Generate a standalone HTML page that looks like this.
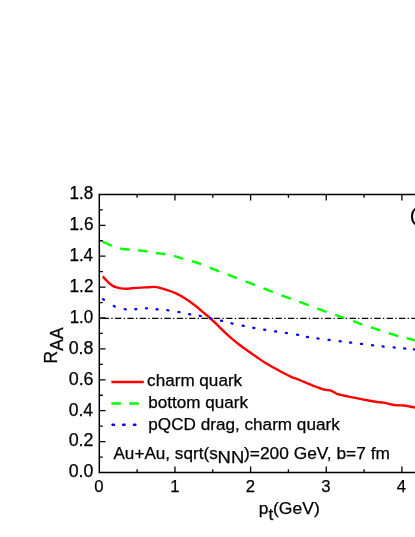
<!DOCTYPE html><html><head><meta charset="utf-8"><style>html,body{margin:0;padding:0;background:#fff;}svg{display:block;will-change:transform;}text{font-family:"Liberation Sans",sans-serif;fill:#000;stroke:#000;stroke-width:0.25px;}</style></head><body>
<svg width="415" height="537" viewBox="0 0 415 537">
<rect width="415" height="537" fill="#fff"/>
<path d="M98.6 318.30 H416" stroke="#000" stroke-width="1.35" stroke-dasharray="6.3 2.3 1.3 2.445" stroke-dashoffset="8.225" fill="none"/>
<path d="M102.70 276.40 C103.48 277.23 105.78 279.87 107.40 281.40 C109.02 282.93 110.70 284.57 112.40 285.60 C114.10 286.63 116.17 287.13 117.60 287.60 C119.03 288.07 119.68 288.20 121.00 288.40 C122.32 288.60 124.00 288.78 125.50 288.80 C127.00 288.82 128.40 288.65 130.00 288.50 C131.60 288.35 132.58 288.08 135.10 287.90 C137.62 287.72 141.82 287.57 145.10 287.40 C148.38 287.23 152.38 286.83 154.80 286.90 C157.22 286.97 157.52 287.27 159.60 287.80 C161.68 288.33 164.57 289.17 167.30 290.10 C170.03 291.03 173.02 292.00 176.00 293.40 C178.98 294.80 181.87 296.37 185.20 298.50 C188.53 300.63 193.00 303.90 196.00 306.20 C199.00 308.50 200.78 310.25 203.20 312.30 C205.62 314.35 208.08 316.33 210.50 318.50 C212.92 320.67 215.30 323.00 217.70 325.30 C220.10 327.60 222.50 330.05 224.90 332.30 C227.30 334.55 229.68 336.73 232.10 338.80 C234.52 340.87 236.98 342.83 239.40 344.70 C241.82 346.57 243.83 348.02 246.60 350.00 C249.37 351.98 252.98 354.52 256.00 356.60 C259.02 358.68 261.80 360.68 264.70 362.50 C267.60 364.32 270.52 365.87 273.40 367.50 C276.28 369.13 279.12 370.78 282.00 372.30 C284.88 373.82 287.80 375.32 290.70 376.60 C293.60 377.88 296.48 378.83 299.40 380.00 C302.32 381.17 305.33 382.43 308.20 383.60 C311.07 384.77 314.35 386.12 316.60 387.00 C318.85 387.88 320.13 388.42 321.70 388.90 C323.27 389.38 324.37 389.57 326.00 389.90 C327.63 390.23 329.68 390.25 331.50 390.90 C333.32 391.55 334.37 392.92 336.90 393.80 C339.43 394.68 343.27 395.43 346.70 396.20 C350.13 396.97 353.88 397.68 357.50 398.40 C361.12 399.12 365.15 399.90 368.40 400.50 C371.65 401.10 374.47 401.65 377.00 402.00 C379.53 402.35 381.42 402.23 383.60 402.60 C385.78 402.97 387.93 403.75 390.10 404.20 C392.27 404.65 394.25 405.08 396.60 405.30 C398.95 405.52 402.03 405.30 404.20 405.50 C406.37 405.70 407.63 406.13 409.60 406.50 C411.57 406.87 414.93 407.50 416.00 407.70" stroke="#ff0000" stroke-width="2.4" fill="none" stroke-linejoin="round"/>
<path d="M102.40 241.50 L103.97 242.26 L105.53 243.02 L107.10 243.75 L108.67 244.45 L110.23 245.09 L111.80 245.70" stroke="#00ff00" stroke-width="2.4" fill="none"/>
<path d="M120.30 248.47 L121.87 248.79 L123.43 249.04 L125.00 249.23 L126.57 249.39 L128.13 249.53 L129.70 249.68" stroke="#00ff00" stroke-width="2.4" fill="none"/>
<path d="M138.20 250.26 L139.77 250.44 L141.33 250.63 L142.90 250.83 L144.47 251.05 L146.03 251.27 L147.60 251.50" stroke="#00ff00" stroke-width="2.4" fill="none"/>
<path d="M156.10 252.95 L157.67 253.19 L159.23 253.40 L160.80 253.60 L162.37 253.80 L163.93 254.03 L165.50 254.29" stroke="#00ff00" stroke-width="2.4" fill="none"/>
<path d="M174.00 256.00 L175.57 256.42 L177.13 256.88 L178.70 257.37 L180.27 257.86 L181.83 258.35 L183.40 258.80" stroke="#00ff00" stroke-width="2.4" fill="none"/>
<path d="M191.90 261.12 L193.47 261.57 L195.03 262.03 L196.60 262.51 L198.17 263.04 L199.73 263.60 L201.30 264.20" stroke="#00ff00" stroke-width="2.4" fill="none"/>
<path d="M209.80 267.71 L211.37 268.35 L212.93 268.98 L214.50 269.59 L216.07 270.20 L217.63 270.80 L219.20 271.39" stroke="#00ff00" stroke-width="2.4" fill="none"/>
<path d="M227.70 274.58 L229.27 275.17 L230.83 275.76 L232.40 276.35 L233.97 276.95 L235.53 277.55 L237.10 278.14" stroke="#00ff00" stroke-width="2.4" fill="none"/>
<path d="M245.60 281.40 L247.17 282.01 L248.73 282.61 L250.30 283.22 L251.87 283.82 L253.43 284.43 L255.00 285.04" stroke="#00ff00" stroke-width="2.4" fill="none"/>
<path d="M263.50 288.35 L265.07 288.96 L266.63 289.57 L268.20 290.18 L269.77 290.78 L271.33 291.39 L272.90 291.99" stroke="#00ff00" stroke-width="2.4" fill="none"/>
<path d="M281.40 295.26 L282.97 295.86 L284.53 296.45 L286.10 297.04 L287.67 297.62 L289.23 298.19 L290.80 298.76" stroke="#00ff00" stroke-width="2.4" fill="none"/>
<path d="M299.30 301.81 L300.87 302.38 L302.43 302.96 L304.00 303.54 L305.57 304.13 L307.13 304.72 L308.70 305.31" stroke="#00ff00" stroke-width="2.4" fill="none"/>
<path d="M317.20 308.52 L318.77 309.10 L320.33 309.67 L321.90 310.24 L323.47 310.81 L325.03 311.37 L326.60 311.92" stroke="#00ff00" stroke-width="2.4" fill="none"/>
<path d="M335.10 314.87 L336.67 315.41 L338.23 315.96 L339.80 316.51 L341.37 317.05 L342.93 317.60 L344.50 318.16" stroke="#00ff00" stroke-width="2.4" fill="none"/>
<path d="M353.00 321.14 L354.57 321.68 L356.13 322.23 L357.70 322.77 L359.27 323.31 L360.83 323.84 L362.40 324.38" stroke="#00ff00" stroke-width="2.4" fill="none"/>
<path d="M370.90 327.26 L372.47 327.79 L374.03 328.31 L375.60 328.83 L377.17 329.36 L378.73 329.89 L380.30 330.42" stroke="#00ff00" stroke-width="2.4" fill="none"/>
<path d="M388.80 333.25 L390.37 333.74 L391.93 334.23 L393.50 334.70 L395.07 335.15 L396.63 335.59 L398.20 336.02" stroke="#00ff00" stroke-width="2.4" fill="none"/>
<path d="M406.70 338.20 L408.27 338.60 L409.83 339.00 L411.40 339.41 L412.97 339.83 L414.53 340.27 L416.10 340.70" stroke="#00ff00" stroke-width="2.4" fill="none"/>
<path d="M103.03 299.11 L103.97 299.69" stroke="#0000ff" stroke-width="2.3" stroke-linecap="round" fill="none"/>
<path d="M113.80 305.97 L114.80 306.43" stroke="#0000ff" stroke-width="2.3" stroke-linecap="round" fill="none"/>
<path d="M124.76 309.22 L125.84 309.38" stroke="#0000ff" stroke-width="2.3" stroke-linecap="round" fill="none"/>
<path d="M135.25 309.23 L136.35 309.17" stroke="#0000ff" stroke-width="2.3" stroke-linecap="round" fill="none"/>
<path d="M145.95 308.30 L147.05 308.30" stroke="#0000ff" stroke-width="2.3" stroke-linecap="round" fill="none"/>
<path d="M156.55 309.25 L157.65 309.35" stroke="#0000ff" stroke-width="2.3" stroke-linecap="round" fill="none"/>
<path d="M167.35 310.23 L168.45 310.37" stroke="#0000ff" stroke-width="2.3" stroke-linecap="round" fill="none"/>
<path d="M178.46 311.90 L179.54 312.10" stroke="#0000ff" stroke-width="2.3" stroke-linecap="round" fill="none"/>
<path d="M189.16 314.10 L190.24 314.30" stroke="#0000ff" stroke-width="2.3" stroke-linecap="round" fill="none"/>
<path d="M199.76 315.79 L200.84 316.01" stroke="#0000ff" stroke-width="2.3" stroke-linecap="round" fill="none"/>
<path d="M210.36 318.28 L211.44 318.52" stroke="#0000ff" stroke-width="2.3" stroke-linecap="round" fill="none"/>
<path d="M220.96 320.67 L222.04 320.93" stroke="#0000ff" stroke-width="2.3" stroke-linecap="round" fill="none"/>
<path d="M231.56 323.28 L232.64 323.52" stroke="#0000ff" stroke-width="2.3" stroke-linecap="round" fill="none"/>
<path d="M242.66 325.69 L243.74 325.91" stroke="#0000ff" stroke-width="2.3" stroke-linecap="round" fill="none"/>
<path d="M253.26 327.80 L254.34 328.00" stroke="#0000ff" stroke-width="2.3" stroke-linecap="round" fill="none"/>
<path d="M264.16 329.71 L265.24 329.89" stroke="#0000ff" stroke-width="2.3" stroke-linecap="round" fill="none"/>
<path d="M275.06 331.32 L276.14 331.48" stroke="#0000ff" stroke-width="2.3" stroke-linecap="round" fill="none"/>
<path d="M285.86 332.92 L286.94 333.08" stroke="#0000ff" stroke-width="2.3" stroke-linecap="round" fill="none"/>
<path d="M297.06 334.70 L298.14 334.90" stroke="#0000ff" stroke-width="2.3" stroke-linecap="round" fill="none"/>
<path d="M306.96 336.90 L308.04 337.10" stroke="#0000ff" stroke-width="2.3" stroke-linecap="round" fill="none"/>
<path d="M317.45 338.43 L318.55 338.57" stroke="#0000ff" stroke-width="2.3" stroke-linecap="round" fill="none"/>
<path d="M328.55 339.83 L329.65 339.97" stroke="#0000ff" stroke-width="2.3" stroke-linecap="round" fill="none"/>
<path d="M339.65 341.13 L340.75 341.27" stroke="#0000ff" stroke-width="2.3" stroke-linecap="round" fill="none"/>
<path d="M350.15 342.53 L351.25 342.67" stroke="#0000ff" stroke-width="2.3" stroke-linecap="round" fill="none"/>
<path d="M360.95 343.83 L362.05 343.97" stroke="#0000ff" stroke-width="2.3" stroke-linecap="round" fill="none"/>
<path d="M372.05 345.23 L373.15 345.37" stroke="#0000ff" stroke-width="2.3" stroke-linecap="round" fill="none"/>
<path d="M382.55 346.44 L383.65 346.56" stroke="#0000ff" stroke-width="2.3" stroke-linecap="round" fill="none"/>
<path d="M393.65 347.45 L394.75 347.55" stroke="#0000ff" stroke-width="2.3" stroke-linecap="round" fill="none"/>
<path d="M404.15 348.45 L405.25 348.55" stroke="#0000ff" stroke-width="2.3" stroke-linecap="round" fill="none"/>
<path d="M413.95 349.35 L415.05 349.45" stroke="#0000ff" stroke-width="2.3" stroke-linecap="round" fill="none"/>
<path d="M99.30 193.65 V473.25" stroke="#000" stroke-width="1.50" fill="none"/>
<path d="M99.30 194.40 H416" stroke="#000" stroke-width="1.50" fill="none"/>
<path d="M99.30 472.50 H416" stroke="#000" stroke-width="1.50" fill="none"/>
<path d="M137.12 472.50 v-3.30 M137.12 194.40 v3.30 M174.95 472.50 v-6.00 M174.95 194.40 v6.00 M212.78 472.50 v-3.30 M212.78 194.40 v3.30 M250.60 472.50 v-6.00 M250.60 194.40 v6.00 M288.43 472.50 v-3.30 M288.43 194.40 v3.30 M326.25 472.50 v-6.00 M326.25 194.40 v6.00 M364.08 472.50 v-3.30 M364.08 194.40 v3.30 M401.90 472.50 v-6.00 M401.90 194.40 v6.00 M439.73 472.50 v-3.30 M439.73 194.40 v3.30 M99.30 457.05 h3.50 M99.30 441.60 h6.20 M99.30 426.15 h3.50 M99.30 410.70 h6.20 M99.30 395.25 h3.50 M99.30 379.80 h6.20 M99.30 364.35 h3.50 M99.30 348.90 h6.20 M99.30 333.45 h3.50 M99.30 318.00 h6.20 M99.30 302.55 h3.50 M99.30 287.10 h6.20 M99.30 271.65 h3.50 M99.30 256.20 h6.20 M99.30 240.75 h3.50 M99.30 225.30 h6.20 M99.30 209.85 h3.50" stroke="#000" stroke-width="1.30" fill="none"/>
<path d="M111.4 382.0 H143.8" stroke="#ff0000" stroke-width="2.3" fill="none"/>
<path d="M111.4 403.5 H120.9 M129.2 403.5 H138.8" stroke="#00ff00" stroke-width="2.5" fill="none"/>
<path d="M112.5 424.75 h1.5 M123.1 424.75 h1.5 M133.9 424.75 h1.5" stroke="#0000ff" stroke-width="2.4" stroke-linecap="round" fill="none"/>
<g transform="translate(57,363.4) rotate(-90)"><text x="0" y="0" font-size="17.5">R</text><text x="12.7" y="5.5" font-size="18" textLength="23.3" lengthAdjust="spacingAndGlyphs">AA</text></g>
<text id="y0" x="68.71" y="477.30" font-size="17.50" textLength="24.63" lengthAdjust="spacingAndGlyphs">0.0</text>
<text id="y1" x="68.70" y="446.40" font-size="17.50" textLength="24.84" lengthAdjust="spacingAndGlyphs">0.2</text>
<text id="y2" x="68.71" y="415.50" font-size="17.50" textLength="24.37" lengthAdjust="spacingAndGlyphs">0.4</text>
<text id="y3" x="68.69" y="384.60" font-size="17.50" textLength="24.88" lengthAdjust="spacingAndGlyphs">0.6</text>
<text id="y4" x="68.69" y="353.70" font-size="17.50" textLength="24.72" lengthAdjust="spacingAndGlyphs">0.8</text>
<text id="y5" x="69.68" y="322.80" font-size="17.50" textLength="23.59" lengthAdjust="spacingAndGlyphs">1.0</text>
<text id="y6" x="69.52" y="291.90" font-size="17.50" textLength="23.95" lengthAdjust="spacingAndGlyphs">1.2</text>
<text id="y7" x="69.40" y="261.00" font-size="17.50" textLength="23.71" lengthAdjust="spacingAndGlyphs">1.4</text>
<text id="y8" x="69.54" y="230.10" font-size="17.50" textLength="23.94" lengthAdjust="spacingAndGlyphs">1.6</text>
<text id="y9" x="69.54" y="199.20" font-size="17.50" textLength="23.83" lengthAdjust="spacingAndGlyphs">1.8</text>
<text id="x0" x="94.36" y="491.90" font-size="16.70">0</text>
<text id="x1" x="170.31" y="491.90" font-size="16.70">1</text>
<text id="x2" x="245.66" y="491.90" font-size="16.70">2</text>
<text id="x3" x="321.25" y="491.90" font-size="16.70">3</text>
<text id="x4" x="396.72" y="491.90" font-size="16.70">4</text>
<text id="l1" x="147.13" y="386.30" font-size="16.70" textLength="95.01" lengthAdjust="spacingAndGlyphs">charm quark</text>
<text id="l2" x="148.28" y="407.70" font-size="16.70" textLength="99.71" lengthAdjust="spacingAndGlyphs">bottom quark</text>
<text id="l3" x="148.32" y="430.30" font-size="17.30" textLength="191.44" lengthAdjust="spacingAndGlyphs">pQCD drag, charm quark</text>
<text id="a1" x="113.44" y="458.50" font-size="16.70" textLength="104.27" lengthAdjust="spacingAndGlyphs">Au+Au, sqrt(s</text>
<text id="a2" x="217.60" y="463.00" font-size="16.70" textLength="26.59" lengthAdjust="spacingAndGlyphs">NN</text>
<text id="a3" x="244.06" y="458.50" font-size="16.70" textLength="145.87" lengthAdjust="spacingAndGlyphs">)=200 GeV, b=7 fm</text>
<text id="p1" x="258.75" y="513.90" font-size="17.30">p</text>
<text id="p2" x="268.49" y="519.50" font-size="17.00">t</text>
<text id="p3" x="273.04" y="513.90" font-size="17.30" textLength="46.72" lengthAdjust="spacingAndGlyphs">(GeV)</text>
<text id="pb" x="409.67" y="220.50" font-size="18.00" textLength="25.72" lengthAdjust="spacingAndGlyphs">(b)</text>
</svg></body></html>
